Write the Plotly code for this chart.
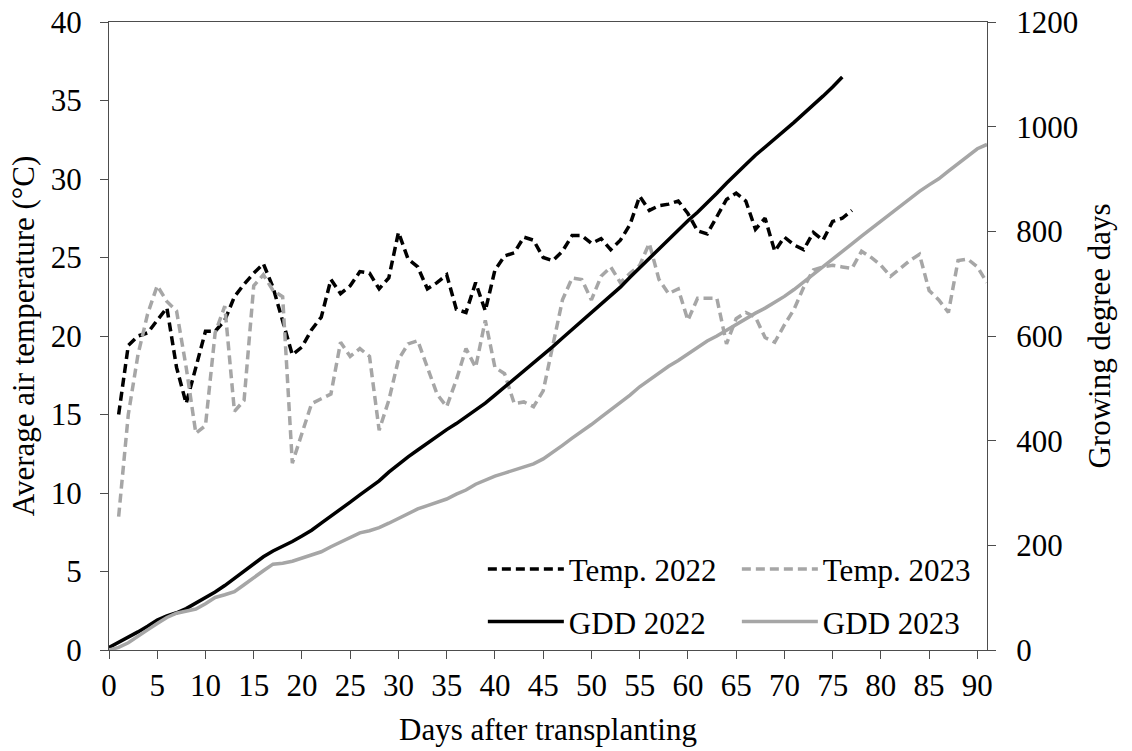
import plotly.graph_objects as go

# ---- data ----
days_temp_2022 = list(range(1, 78))
temp_2022 = [15.0, 19.4, 20.0, 20.2, 21.0, 21.8, 18.0, 15.7, 18.0, 20.3,
             20.3, 21.0, 22.5, 23.3, 24.0, 24.6, 23.1, 21.0, 18.8, 19.3,
             20.4, 21.2, 23.6, 22.7, 23.2, 24.1, 24.0, 23.0, 23.7, 26.6,
             24.9, 24.4, 23.0, 23.4, 23.9, 21.7, 21.5, 23.4, 21.6, 24.2,
             25.1, 25.3, 26.3, 26.1, 25.0, 24.8, 25.4, 26.4, 26.4, 25.9,
             26.2, 25.5, 26.1, 27.1, 28.9, 28.0, 28.3, 28.4, 28.6, 27.8,
             26.7, 26.5, 27.6, 28.7, 29.1, 28.6, 26.8, 27.5, 25.4, 26.3,
             25.8, 25.5, 26.6, 26.1, 27.3, 27.5, 28.0]

days_temp_2023 = list(range(1, 92))
temp_2023 = [8.5, 15.0, 18.8, 21.4, 23.2, 22.2, 21.6, 18.0, 13.8, 14.3,
             20.2, 21.9, 15.2, 15.9, 23.2, 23.9, 22.9, 22.5, 11.9, 13.8,
             15.7, 16.0, 16.3, 19.6, 18.7, 19.2, 18.7, 14.0, 15.9, 18.5,
             19.5, 19.7, 18.0, 16.3, 15.5, 17.2, 19.2, 18.0, 21.0, 18.0,
             17.6, 15.7, 15.8, 15.5, 16.5, 19.3, 22.3, 23.7, 23.6, 22.3,
             23.8, 24.4, 23.4, 24.0, 24.5, 25.9, 23.6, 22.7, 23.0, 21.0,
             22.4, 22.4, 22.4, 19.5, 21.1, 21.5, 21.2, 19.9, 19.6, 20.7,
             21.7, 23.1, 24.2, 24.4, 24.5, 24.4, 24.3, 25.4, 25.0, 24.5,
             23.8, 24.3, 24.8, 25.2, 22.9, 22.3, 21.5, 24.8, 24.9, 24.4,
             23.4]

days_gdd_2022 = list(range(0, 77))
gdd_2022 = [5.0, 14.4, 24.4, 34.6, 45.6, 57.4, 65.4, 71.1, 79.1, 89.4,
            99.7, 110.7, 123.2, 136.5, 150.5, 165.1, 178.2, 189.2, 198.0, 207.3,
            217.7, 228.9, 242.5, 255.2, 268.4, 282.5, 296.5, 309.5, 323.2, 339.8,
            354.7, 369.1, 382.1, 395.5, 409.4, 421.1, 432.6, 446.0, 457.6, 471.8,
            486.9, 502.2, 518.5, 534.6, 549.6, 564.4, 579.8, 596.2, 612.6, 628.5,
            644.7, 660.2, 676.3, 693.4, 712.3, 730.3, 748.6, 767.0, 785.6, 803.4,
            820.1, 836.6, 854.2, 872.9, 892.0, 910.9, 927.7, 945.3, 960.7, 977.0,
            992.8, 1008.3, 1024.9, 1041.0, 1058.3, 1075.8, 1095.0]

days_gdd_2023 = list(range(0, 92))
gdd_2023 = [0.0, 5.0, 13.8, 25.2, 38.4, 50.6, 62.2, 70.2, 74.0, 78.3,
            88.5, 100.4, 105.6, 111.5, 124.7, 138.6, 151.5, 164.0, 165.9, 169.7,
            175.4, 181.4, 187.7, 197.3, 206.0, 215.2, 223.9, 227.9, 233.8, 242.3,
            251.8, 261.5, 269.5, 275.8, 281.3, 288.5, 297.7, 305.7, 316.7, 324.7,
            332.3, 338.0, 343.8, 349.3, 355.8, 365.1, 377.4, 391.1, 404.7, 417.0,
            430.8, 445.2, 458.6, 472.6, 487.1, 503.0, 516.6, 529.3, 542.3, 553.3,
            565.7, 578.1, 590.5, 600.0, 611.1, 622.6, 633.8, 643.7, 653.3, 664.0,
            675.7, 688.8, 703.0, 717.4, 731.9, 746.3, 760.6, 776.0, 791.0, 805.5,
            819.3, 833.6, 848.4, 863.6, 876.5, 888.8, 900.3, 915.1, 930.0, 944.4,
            957.8, 966.0]

x_ticks = list(range(0, 91, 5))
FONT = "Liberation Serif, Times New Roman, serif"
BLACK = "#000000"
GREY = "#a6a6a6"
AXIS = "#4d4d4d"
FS = 31

fig = go.Figure()
fig.add_trace(go.Scatter(x=days_temp_2022, y=temp_2022, mode="lines", name="Temp. 2022",
                         line=dict(color=BLACK, width=3.5, dash="9px,5px"), legend="legend"))
fig.add_trace(go.Scatter(x=days_temp_2023, y=temp_2023, mode="lines", name="Temp. 2023",
                         line=dict(color=GREY, width=3.5, dash="9px,5px"), legend="legend"))
fig.add_trace(go.Scatter(x=days_gdd_2022, y=gdd_2022, mode="lines", name="GDD 2022",
                         line=dict(color=BLACK, width=3.5), yaxis="y2", legend="legend2"))
fig.add_trace(go.Scatter(x=days_gdd_2023, y=gdd_2023, mode="lines", name="GDD 2023",
                         line=dict(color=GREY, width=3.5), yaxis="y2", legend="legend2"))

common_legend = dict(orientation="h", font=dict(family=FONT, size=FS, color="#000"),
                     bgcolor="rgba(0,0,0,0)", borderwidth=0, itemwidth=76,
                     entrywidth=163, xanchor="left", yanchor="middle", xref="paper", yref="paper",
                     tracegroupgap=0)

fig.update_layout(
    width=1132, height=751,
    margin=dict(l=109, r=145, t=22, b=101, pad=0, autoexpand=False),
    paper_bgcolor="white", plot_bgcolor="white",
    font=dict(family=FONT, size=FS, color="#000"),
    showlegend=True,
    legend=dict(common_legend, x=0.4258, y=0.1285),
    legend2=dict(common_legend, x=0.4258, y=0.0447),
    xaxis=dict(range=[0, 91], tickmode="array", tickvals=x_ticks, ticks="outside", ticklen=8,
               tickcolor=AXIS, tickwidth=1.3, showline=True, linecolor=AXIS, linewidth=1.3,
               mirror=True, showgrid=False, zeroline=False, automargin=False,
               tickfont=dict(family=FONT, size=FS, color="#000"),
               title=dict(text="Days after transplanting", font=dict(family=FONT, size=FS),
                          standoff=15)),
    yaxis=dict(range=[0, 40], dtick=5, ticks="outside", ticklen=8, tickcolor=AXIS, tickwidth=1.3,
               showline=True, linecolor=AXIS, linewidth=1.3, showgrid=False, zeroline=False,
               automargin=False,
               tickfont=dict(family=FONT, size=FS, color="#000"), ticklabelstandoff=12,
               title=dict(text="Average air temperature (°C)\u00a0\u00a0", font=dict(family=FONT, size=FS),
                          standoff=6)),
    yaxis2=dict(range=[0, 1200], dtick=200, overlaying="y", side="right", ticks="outside",
                ticklen=8, tickcolor=AXIS, tickwidth=1.3, showline=True, linecolor=AXIS,
                linewidth=1.3, showgrid=False, zeroline=False, ticklabelstandoff=14,
                automargin=False,
                tickfont=dict(family=FONT, size=FS, color="#000"),
                title=dict(text="Growing degree days", font=dict(family=FONT, size=FS),
                           standoff=10)),
)

fig.write_html("out.html")
